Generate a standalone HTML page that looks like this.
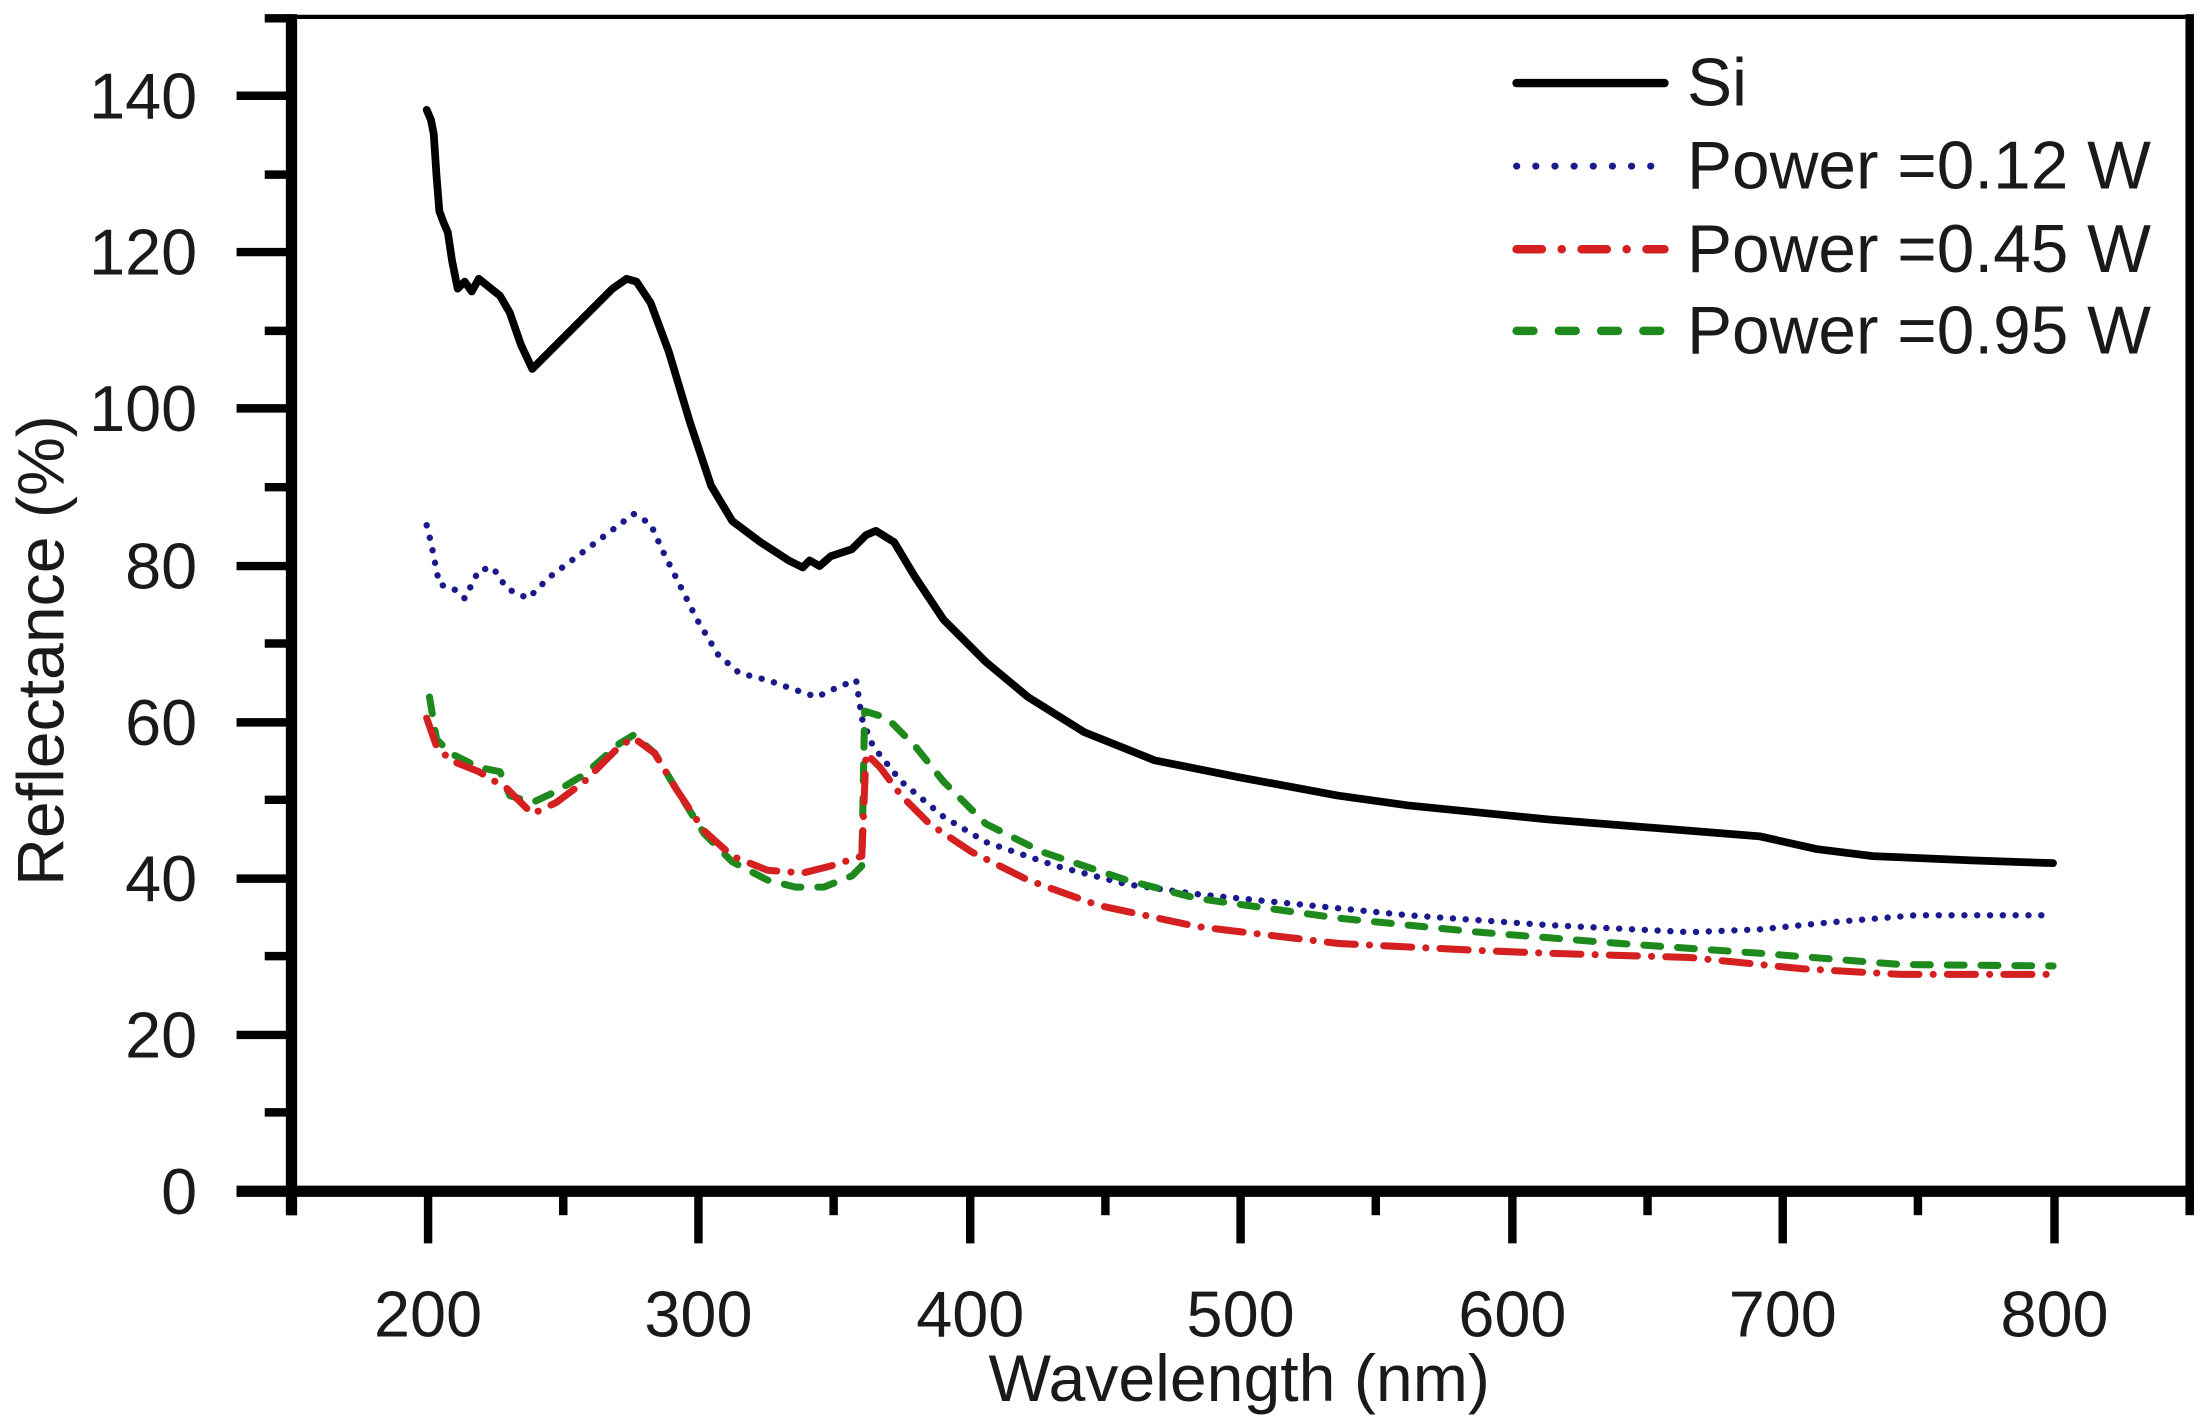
<!DOCTYPE html>
<html><head><meta charset="utf-8"><style>
html,body{margin:0;padding:0;background:#fff;}
svg{display:block;}
text{font-family:"Liberation Sans",Arial,sans-serif;fill:#1a1a1a;}
</style></head><body>
<svg width="2208" height="1425" viewBox="0 0 1568 1012" preserveAspectRatio="none" xmlns="http://www.w3.org/2000/svg">
<rect width="1568" height="1012" fill="#fff"/>
<line x1="207" y1="12" x2="1556" y2="12" stroke="#000" stroke-width="3"/>
<line x1="1555" y1="10" x2="1555" y2="862" stroke="#000" stroke-width="6"/>
<line x1="207" y1="10" x2="207" y2="863" stroke="#000" stroke-width="8"/>
<line x1="168" y1="846" x2="1558" y2="846" stroke="#000" stroke-width="8"/>
<g stroke="#000" stroke-width="6">
<line x1="168" y1="846" x2="207" y2="846"/>
<line x1="168" y1="735" x2="207" y2="735"/>
<line x1="168" y1="624" x2="207" y2="624"/>
<line x1="168" y1="513" x2="207" y2="513"/>
<line x1="168" y1="402" x2="207" y2="402"/>
<line x1="168" y1="290" x2="207" y2="290"/>
<line x1="168" y1="179" x2="207" y2="179"/>
<line x1="168" y1="68" x2="207" y2="68"/>
<line x1="188" y1="790" x2="207" y2="790"/>
<line x1="188" y1="679" x2="207" y2="679"/>
<line x1="188" y1="568" x2="207" y2="568"/>
<line x1="188" y1="457" x2="207" y2="457"/>
<line x1="188" y1="346" x2="207" y2="346"/>
<line x1="188" y1="235" x2="207" y2="235"/>
<line x1="188" y1="124" x2="207" y2="124"/>
<line x1="188" y1="13" x2="207" y2="13"/>
</g>
<g stroke="#000" stroke-width="6">
<line x1="304" y1="846" x2="304" y2="883"/>
<line x1="496" y1="846" x2="496" y2="883"/>
<line x1="689" y1="846" x2="689" y2="883"/>
<line x1="881" y1="846" x2="881" y2="883"/>
<line x1="1074" y1="846" x2="1074" y2="883"/>
<line x1="1266" y1="846" x2="1266" y2="883"/>
<line x1="1459" y1="846" x2="1459" y2="883"/>
<line x1="207" y1="846" x2="207" y2="863"/>
<line x1="400" y1="846" x2="400" y2="863"/>
<line x1="592" y1="846" x2="592" y2="863"/>
<line x1="785" y1="846" x2="785" y2="863"/>
<line x1="977" y1="846" x2="977" y2="863"/>
<line x1="1170" y1="846" x2="1170" y2="863"/>
<line x1="1362" y1="846" x2="1362" y2="863"/>
<line x1="1555" y1="846" x2="1555" y2="863"/>
</g>
<g font-size="46" text-anchor="end">
<text x="140" y="862">0</text>
<text x="140" y="751">20</text>
<text x="140" y="640">40</text>
<text x="140" y="529">60</text>
<text x="140" y="418">80</text>
<text x="140" y="306">100</text>
<text x="140" y="195">120</text>
<text x="140" y="84">140</text>
</g>
<g font-size="46" text-anchor="middle">
<text x="304" y="949">200</text>
<text x="496" y="949">300</text>
<text x="689" y="949">400</text>
<text x="881" y="949">500</text>
<text x="1074" y="949">600</text>
<text x="1266" y="949">700</text>
<text x="1459" y="949">800</text>
</g>
<text x="880" y="995" font-size="47" text-anchor="middle">Wavelength (nm)</text>
<text transform="translate(45,462) rotate(-90)" font-size="47" text-anchor="middle">Reflectance (%)</text>

<g fill="none" stroke-linejoin="round" stroke-linecap="round">
<path stroke="#000" stroke-width="5.5" d="M303,78 L306,85 L308,95 L310,125 L312,150 L315,158 L318,165 L321,185 L325,205 L330,200 L335,207 L340,198 L345,202 L350,206 L355,210 L362,222 L370,245 L378,262 L390,250 L405,235 L420,220 L435,205 L445,198 L452,200 L462,215 L475,250 L490,300 L505,345 L520,370 L540,385 L560,398 L570,403 L575,398 L582,402 L590,395 L605,390 L615,380 L622,377 L635,385 L650,410 L670,440 L700,470 L730,495 L770,520 L820,540 L880,552 L950,565 L1000,572 L1100,582 L1200,590 L1250,594 L1290,603 L1330,608 L1400,611 L1458,613"/>
<path stroke="#1a1a8c" stroke-width="4.5" stroke-dasharray="0.1 9" d="M303,373 L306,385 L308,395 L312,415 L322,418 L330,425 L340,405 L350,403 L360,418 L375,425 L390,410 L410,395 L430,380 L450,365 L462,372 L470,390 L480,410 L495,440 L510,465 L525,478 L545,483 L565,490 L580,495 L595,488 L608,483 L612,510 L620,530 L640,555 L670,580 L700,598 L750,615 L800,628 L850,635 L900,640 L1000,650 L1100,657 L1200,662 L1250,660 L1300,655 L1360,650 L1400,650 L1458,650"/>
<path stroke="#1e8a1e" stroke-width="5" stroke-dasharray="12 12" d="M305,495 L310,525 L320,535 L340,545 L355,548 L362,565 L378,570 L395,562 L415,550 L440,528 L450,522 L465,535 L480,560 L500,592 L520,612 L545,625 L565,630 L585,630 L605,622 L612,615 L614,505 L630,510 L650,530 L670,555 L700,585 L740,605 L800,625 L850,638 L950,652 L1050,662 L1150,670 L1250,677 L1350,685 L1458,686"/>
<path stroke="#d42020" stroke-width="5" stroke-dasharray="20 10 0.1 10" d="M303,510 L310,530 L320,540 L340,548 L360,560 L378,578 L395,570 L415,555 L440,530 L450,524 L465,535 L480,560 L500,590 L520,608 L545,618 L570,620 L590,615 L612,608 L615,535 L625,545 L640,565 L660,585 L690,605 L730,625 L780,643 L850,658 L950,670 L1050,675 L1100,677 L1200,680 L1280,688 L1350,692 L1458,692"/>
</g>

<g fill="none" stroke-linecap="round">
<line x1="1077" y1="59" x2="1182" y2="59" stroke="#000" stroke-width="6"/>
<line x1="1077" y1="118" x2="1182" y2="118" stroke="#1a1a8c" stroke-width="5" stroke-dasharray="0.1 13.5"/>
<line x1="1077" y1="177" x2="1182" y2="177" stroke="#d42020" stroke-width="6" stroke-dasharray="18 14 0.1 14"/>
<line x1="1077" y1="235" x2="1182" y2="235" stroke="#1e8a1e" stroke-width="6" stroke-dasharray="12 18"/>
</g>
<g font-size="48">
<text x="1198" y="75">Si</text>
<text x="1198" y="134">Power =0.12 W</text>
<text x="1198" y="193">Power =0.45 W</text>
<text x="1198" y="251">Power =0.95 W</text>
</g>
</svg>
</body></html>
